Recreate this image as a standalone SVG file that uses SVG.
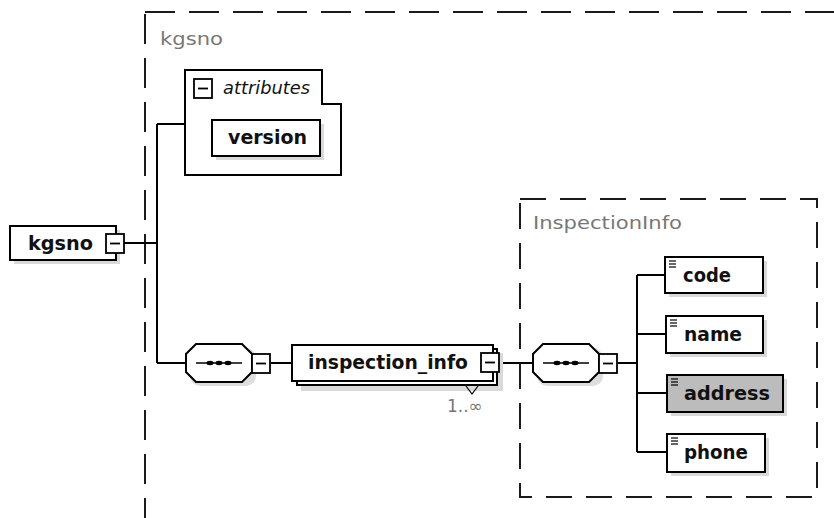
<svg xmlns="http://www.w3.org/2000/svg" width="834" height="518" viewBox="0 0 834 518">
<style>
.bx{fill:#fff;stroke:#000;stroke-width:2}
.sh{fill:#d9d9d9}
.c{fill:none;stroke:#000;stroke-width:2}
.dash{fill:none;stroke:#1a1a1a;stroke-width:2;stroke-dasharray:30 14}
.t{font-family:"DejaVu Sans",Verdana,sans-serif;font-weight:bold;font-size:19px;fill:#111}
.lbl{font-family:"DejaVu Sans",Verdana,sans-serif;font-size:17px;fill:#777}
.it{font-family:"DejaVu Sans",Verdana,sans-serif;font-style:italic;font-size:17px;fill:#111}
.ic{stroke:#000;stroke-width:1.2}
</style>
<defs>
<g id="minus"><rect x="0" y="0" width="18" height="19" fill="#fff" stroke="#000" stroke-width="1.8"/><line x1="4" y1="9.5" x2="14" y2="9.5" stroke="#000" stroke-width="1.8"/></g>
<g id="seq"><polygon points="10,0 56,0 66,10 66,28 56,38 10,38 0,28 0,10" fill="#fff" stroke="#000" stroke-width="2"/><line x1="10" y1="19" x2="56" y2="19" stroke="#000" stroke-width="1.5"/><ellipse cx="24" cy="19" rx="3.5" ry="2.2"/><ellipse cx="33" cy="19" rx="3.5" ry="2.2"/><ellipse cx="42" cy="19" rx="3.5" ry="2.2"/></g>
<g id="elic"><line x1="0" y1="0" x2="7" y2="0" class="ic"/><line x1="0" y1="3" x2="7" y2="3" class="ic"/><line x1="0" y1="6" x2="7" y2="6" class="ic"/></g>
</defs>
<rect width="834" height="518" fill="#fff"/>

<g id="kgsno-type">
<rect x="145" y="12" width="730" height="540" class="dash"/>
<text x="160" y="45" class="lbl" textLength="63" lengthAdjust="spacingAndGlyphs">kgsno</text>
</g>

<g id="connectors">
<path class="c" d="M124,243 H157 M157,124 V363 M157,124 H185 M157,363 H186 M271,363 H292 M500,363 H533 M618,363 H637 M637,275 V452 M637,275 H665 M637,334 H666 M637,393 H667 M637,452 H667"/>
</g>

<g id="root">
<rect x="14" y="230" width="106" height="34" class="sh"/>
<rect x="10" y="226" width="106" height="34" class="bx"/>
<text x="28" y="250" class="t" textLength="65" lengthAdjust="spacingAndGlyphs">kgsno</text>
<use href="#minus" x="106" y="234"/>
</g>

<g id="attributes">
<polygon points="185,70 322,70 322,104 341,104 341,175 185,175" class="bx"/>
<use href="#minus" x="194" y="79"/>
<text x="223" y="94" class="it" textLength="87" lengthAdjust="spacingAndGlyphs">attributes</text>
</g>

<g id="version">
<rect x="216" y="124" width="108" height="36" class="sh"/>
<rect x="212" y="120" width="108" height="36" class="bx"/>
<text x="228" y="144" class="t" textLength="79" lengthAdjust="spacingAndGlyphs">version</text>
</g>

<g id="seq1">
<rect x="190" y="348" width="66" height="38" fill="#ddd" rx="10"/>
<use href="#seq" x="186" y="344"/>
<use href="#minus" x="252" y="354"/>
</g>

<g id="inspection_info">
<rect x="301" y="353" width="202" height="38" class="sh"/>
<rect x="297" y="349" width="200" height="36" class="bx"/>
<rect x="292" y="345" width="201" height="36" class="bx"/>
<text x="308" y="369" class="t" textLength="160" lengthAdjust="spacingAndGlyphs">inspection_info</text>
<use href="#minus" x="481" y="353"/>
<polyline points="466,386 472,394 478,386" fill="none" stroke="#000" stroke-width="1.2"/>
<text x="447" y="412" class="lbl" fill="#555">1..∞</text>
</g>

<g id="InspectionInfo-type">
<rect x="520" y="199" width="297" height="298" class="dash" style="stroke-dasharray:26 14"/>
<text x="533" y="229" class="lbl" textLength="149" lengthAdjust="spacingAndGlyphs">InspectionInfo</text>
</g>

<g id="seq2">
<rect x="537" y="348" width="66" height="38" fill="#ddd" rx="10"/>
<use href="#seq" x="533" y="344"/>
<use href="#minus" x="599" y="354"/>
</g>

<g id="code">
<rect x="669" y="261" width="98" height="36" class="sh"/>
<rect x="665" y="257" width="98" height="36" class="bx"/>
<use href="#elic" x="669" y="261"/>
<text x="683" y="282" class="t" textLength="48" lengthAdjust="spacingAndGlyphs">code</text>
</g>

<g id="name">
<rect x="670" y="320" width="97" height="37" class="sh"/>
<rect x="666" y="316" width="97" height="37" class="bx"/>
<use href="#elic" x="670" y="320"/>
<text x="684" y="341" class="t" textLength="58" lengthAdjust="spacingAndGlyphs">name</text>
</g>

<g id="address">
<rect x="671" y="379" width="116" height="37" class="sh"/>
<rect x="667" y="375" width="116" height="37" fill="#bcbcbc" stroke="#000" stroke-width="2"/>
<use href="#elic" x="671" y="379"/>
<text x="684" y="400" class="t" fill="#333" textLength="86" lengthAdjust="spacingAndGlyphs">address</text>
</g>

<g id="phone">
<rect x="671" y="438" width="98" height="38" class="sh"/>
<rect x="667" y="434" width="98" height="38" class="bx"/>
<use href="#elic" x="671" y="438"/>
<text x="684" y="459" class="t" textLength="64" lengthAdjust="spacingAndGlyphs">phone</text>
</g>
</svg>
